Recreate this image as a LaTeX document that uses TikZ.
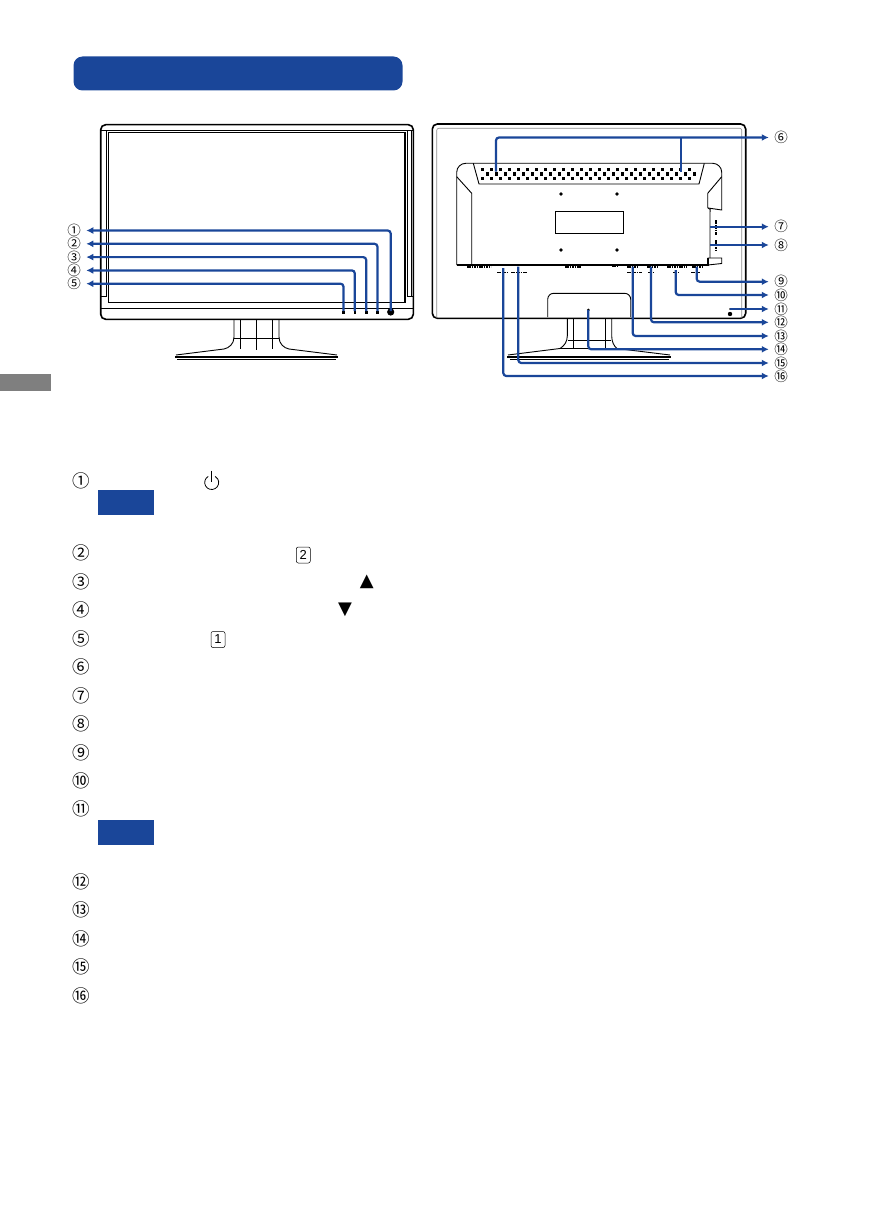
\documentclass[tikz,border=0pt]{standalone}
\usepackage{fontspec}
\setmainfont{Liberation Sans}
\newfontfamily\symfont{DejaVu Sans}
\newfontfamily\numfont{Noto Sans CJK JP}
\usepackage{xcolor}
\definecolor{tabblue}{HTML}{1A4699}
\definecolor{tabgrey}{HTML}{7F7F7F}
\usetikzlibrary{arrows.meta,positioning}
\begin{document}
\begin{tikzpicture}[
  x=1pt, y=-1pt,
  body/.style={draw, line width=.9pt},
  heavy/.style={draw, line width=1.6pt},
  thin line/.style={draw, line width=.4pt},
  greyline/.style={draw=black!45, line width=.6pt},
  num/.style={inner sep=0pt, outer sep=5.5pt, font=\numfont\fontsize{13.5}{13.5}\selectfont},
  listnum/.style={inner sep=0pt, font=\numfont\fontsize{17.5}{17.5}\selectfont},
  wire/.style={draw=tabblue, line width=2.2pt, rounded corners=3pt},
  arr/.style={wire, -{Latex[length=7pt,width=7pt]}},
  notebox/.style={fill=tabblue, inner sep=0pt, minimum width=56pt, minimum height=25pt},
  keycap/.style={draw, rounded corners=2pt, line width=.5pt, inner sep=0pt, minimum width=14pt, minimum height=16pt, font=\fontsize{13}{13}\selectfont},
  tri/.style={inner sep=0pt, font=\symfont\fontsize{18}{18}\selectfont},
  portmark/.style={draw, line width=1.8pt, dash pattern=on 1.6pt off .8pt}
]
\useasboundingbox (0,0) rectangle (873,1225);
% header and side tab
\node[fill=tabblue, rounded corners=9pt, inner sep=0pt, minimum width=329pt, minimum height=34pt] (header) at (238,73.5) {};
\node[fill=tabgrey, inner sep=0pt, minimum width=51pt, minimum height=17pt] (sidetab) at (25.5,382.5) {};

% front view
\draw[heavy, rounded corners=5pt] (100.7,124.7) rectangle (413.3,319.3);
\draw[body] (101,130.7) -- (413,130.7);
\draw[heavy] (108.3,132.7) rectangle (405,302.3);
\draw[body] (106.5,131) -- (106.5,296) -- (101,296);
\draw[body] (407,131) -- (407,296) -- (413,296);
\draw[body] (411,131) -- (411,296);
\draw[thin line] (101,308) -- (413,308);
% front stand
\draw[body] (234,319.5) -- (234,337) .. controls (234,344) and (229,348) .. (224,349);
\draw[body] (279,319.5) -- (279,337) .. controls (279,344) and (284,348) .. (289,349);
\draw[thin line] (240,319.5) -- (240,349) (256,319.5) -- (256,350) (272,319.5) -- (272,349) (234,338) -- (279,338);
\draw[body] (176,355) -- (224,349) (289,349) -- (337,355);
\draw[line width=2pt] (175,356.5) -- (338,356.5);
\draw[thin line] (177,359) -- (336,359);
% front buttons
\fill (342,310.5) rectangle +(3,3.5);
\fill (353.5,310.5) rectangle +(2.5,3.5);
\fill (365,310.5) rectangle +(2.5,3.5);
\fill (376,310.5) rectangle +(3,3.5);
\fill (390.7,312) circle (3.6pt);
\coordinate (b1) at (390.7,311);
\coordinate (b2) at (377.5,311);
\coordinate (b3) at (366.2,311);
\coordinate (b4) at (354.8,311);
\coordinate (b5) at (343.5,311);
\node[num] (n1) at (74,230.5) {①};
\node[num] (n2) at (74,243.8) {②};
\node[num] (n3) at (74,257.1) {③};
\node[num] (n4) at (74,270.4) {④};
\node[num] (n5) at (74,283.7) {⑤};
\draw[arr] (b1) |- (n1.east);
\draw[arr] (b2) |- (n2.east);
\draw[arr] (b3) |- (n3.east);
\draw[arr] (b4) |- (n4.east);
\draw[arr] (b5) |- (n5.east);

% back view
\draw[heavy, rounded corners=5pt] (432.3,124) rectangle (745.7,318.3);
\draw[greyline, rounded corners=2pt] (436.7,318) -- (436.7,128.3) -- (741.7,128.3) -- (741.7,318);
\draw[body, rounded corners=9pt] (456.7,265) -- (456.7,163.3) -- (721.7,163.3) -- (721.7,176);
\draw[body] (456.7,176.7) -- (471.7,193.3) -- (471.7,265);
\draw[body] (473.3,163.3) -- (479,184) -- (699,184) -- (704.3,163.3);
\draw[body] (721.7,176.7) -- (707.7,193.3) -- (707.7,208);
\draw[body] (721.7,176) -- (721.7,210) -- (708,208);
\draw[body] (710,258) -- (710,213) (708,208) .. controls (711,208) and (710,210) .. (710,213);
\draw[body] (707.7,258) -- (721.7,258) -- (721.7,263.5) -- (708,265);
\draw[heavy] (456.7,265) -- (707.7,265) -- (707.7,258);
\draw[body] (555.7,211.7) rectangle (623.7,233.3);
\foreach \x/\y in {561/194,617/194,561/250,617/250}
  \fill (\x,\y) circle (1.8pt);
% vent holes
\foreach \x in {481,490,...,695} {
  \fill (\x,168) rectangle +(3,3.4);
  \fill (\x,176.6) rectangle +(3,3.4);
}
\foreach \x in {485.5,494.5,...,693} {
  \fill (\x,172.3) rectangle +(3,3.4);
}
% port marks on the lower edge
\draw[portmark] (467,267) -- (491,267) (565,267) -- (581,267) (612,266.5) -- (618,266.5) (627,267) -- (638,267) (647,267) -- (658,267) (667,267) -- (687,267) (692,267) -- (702,267);
\draw[portmark] (497,272.5) -- (507,272.5) (511,272.5) -- (527,272.5) (627,272.5) -- (642,272.5) (648,272.5) -- (653,272.5) (673,272.5) -- (678,272.5) (691,272.5) -- (700,272.5);
\draw[portmark] (715.7,220) -- (715.7,235) (715.7,240) -- (715.7,250);
% back stand
\draw[body, rounded corners=6pt] (547.7,317) -- (547.7,293.3) -- (630.7,293.3) -- (630.7,317);
\draw[body] (567.3,318.5) -- (567.3,336) .. controls (567.3,342) and (564,346) .. (560,348.5);
\draw[body] (611.7,318.5) -- (611.7,336) .. controls (611.7,342) and (614,346) .. (617,348.5);
\draw[thin line] (573.3,318.5) -- (573.3,349) (605,318.5) -- (605,349) (568,340) -- (611,340);
\draw[body] (508,355) -- (560,348.5) -- (617,348.5) -- (670,355);
\draw[line width=2pt] (507.3,356.7) -- (670.7,356.7);
\draw[thin line] (510,359) -- (669,359);
\fill (730,314) circle (2.2pt);
\fill (730,309) circle (1pt);
\fill (588.3,310) circle (1.5pt);
% back labels, coordinates at the parts
\coordinate (v1) at (496,171.7);
\coordinate (v2) at (681,171.7);
\coordinate (p7) at (710,226.7);
\coordinate (p8) at (710,245);
\coordinate (p9) at (696.7,266.7);
\coordinate (p10) at (675.7,270);
\coordinate (p11) at (730,309);
\coordinate (p12) at (651,266.7);
\coordinate (p13) at (632.7,266.7);
\coordinate (p14) at (588.3,310);
\coordinate (p15) at (518.3,266.7);
\coordinate (p16) at (503.3,268);
\node[num] (n6) at (781,137.5) {⑥};
\node[num] (n7) at (781,226.7) {⑦};
\node[num] (n8) at (781,245) {⑧};
\node[num] (n9) at (781,281.7) {⑨};
\node[num] (n10) at (781,295) {⑩};
\node[num] (n11) at (781,309) {⑪};
\node[num] (n12) at (781,322.3) {⑫};
\node[num] (n13) at (781,336) {⑬};
\node[num] (n14) at (781,349.3) {⑭};
\node[num] (n15) at (781,363) {⑮};
\node[num] (n16) at (781,376) {⑯};
\draw[arr] (v1) |- (n6.west);
\draw[wire] (v2) -- (v2 |- n6.west);
\draw[arr] (p7) -- (n7.west);
\draw[arr] (p8) -- (n8.west);
\draw[arr] (p9) |- (n9.west);
\draw[arr] (p10) |- (n10.west);
\draw[arr] (p11) -- (n11.west);
\draw[arr] (p12) |- (n12.west);
\draw[arr] (p13) |- (n13.west);
\draw[arr] (p14) |- (n14.west);
\draw[arr] (p15) |- (n15.west);
\draw[arr] (p16) |- (n16.west);

% list below the pictures
\foreach \i/\t/\y in {l1/①/480.5,l2/②/553,l3/③/581.5,l4/④/610,l5/⑤/638.5,l6/⑥/667,l7/⑦/695.5,l8/⑧/724,l9/⑨/752.5,l10/⑩/781,l11/⑪/808.5,l12/⑫/881.5,l13/⑬/910,l14/⑭/938.5,l15/⑮/967,l16/⑯/995.5}
  \node[listnum] (\i) at (81,\y) {\t};
\node[notebox] (note1) at (126,502.5) {};
\node[notebox] (note2) at (126,832.5) {};
% symbols in the list
\coordinate (pwr) at (211.7,482.5);
\draw[line width=.8pt] (pwr) ++(120:7pt) arc[start angle=120,end angle=420,radius=7pt];
\draw[line width=.8pt] (pwr) ++(0,-12) -- ++(0,11);
\node[keycap] (key2) at (303.3,555) {2};
\node[tri] (up) at (366.7,581.7) {▲};
\node[tri] (down) at (345,610) {▼};
\node[keycap] (key1) at (218,639.5) {1};
\end{tikzpicture}
\end{document}
